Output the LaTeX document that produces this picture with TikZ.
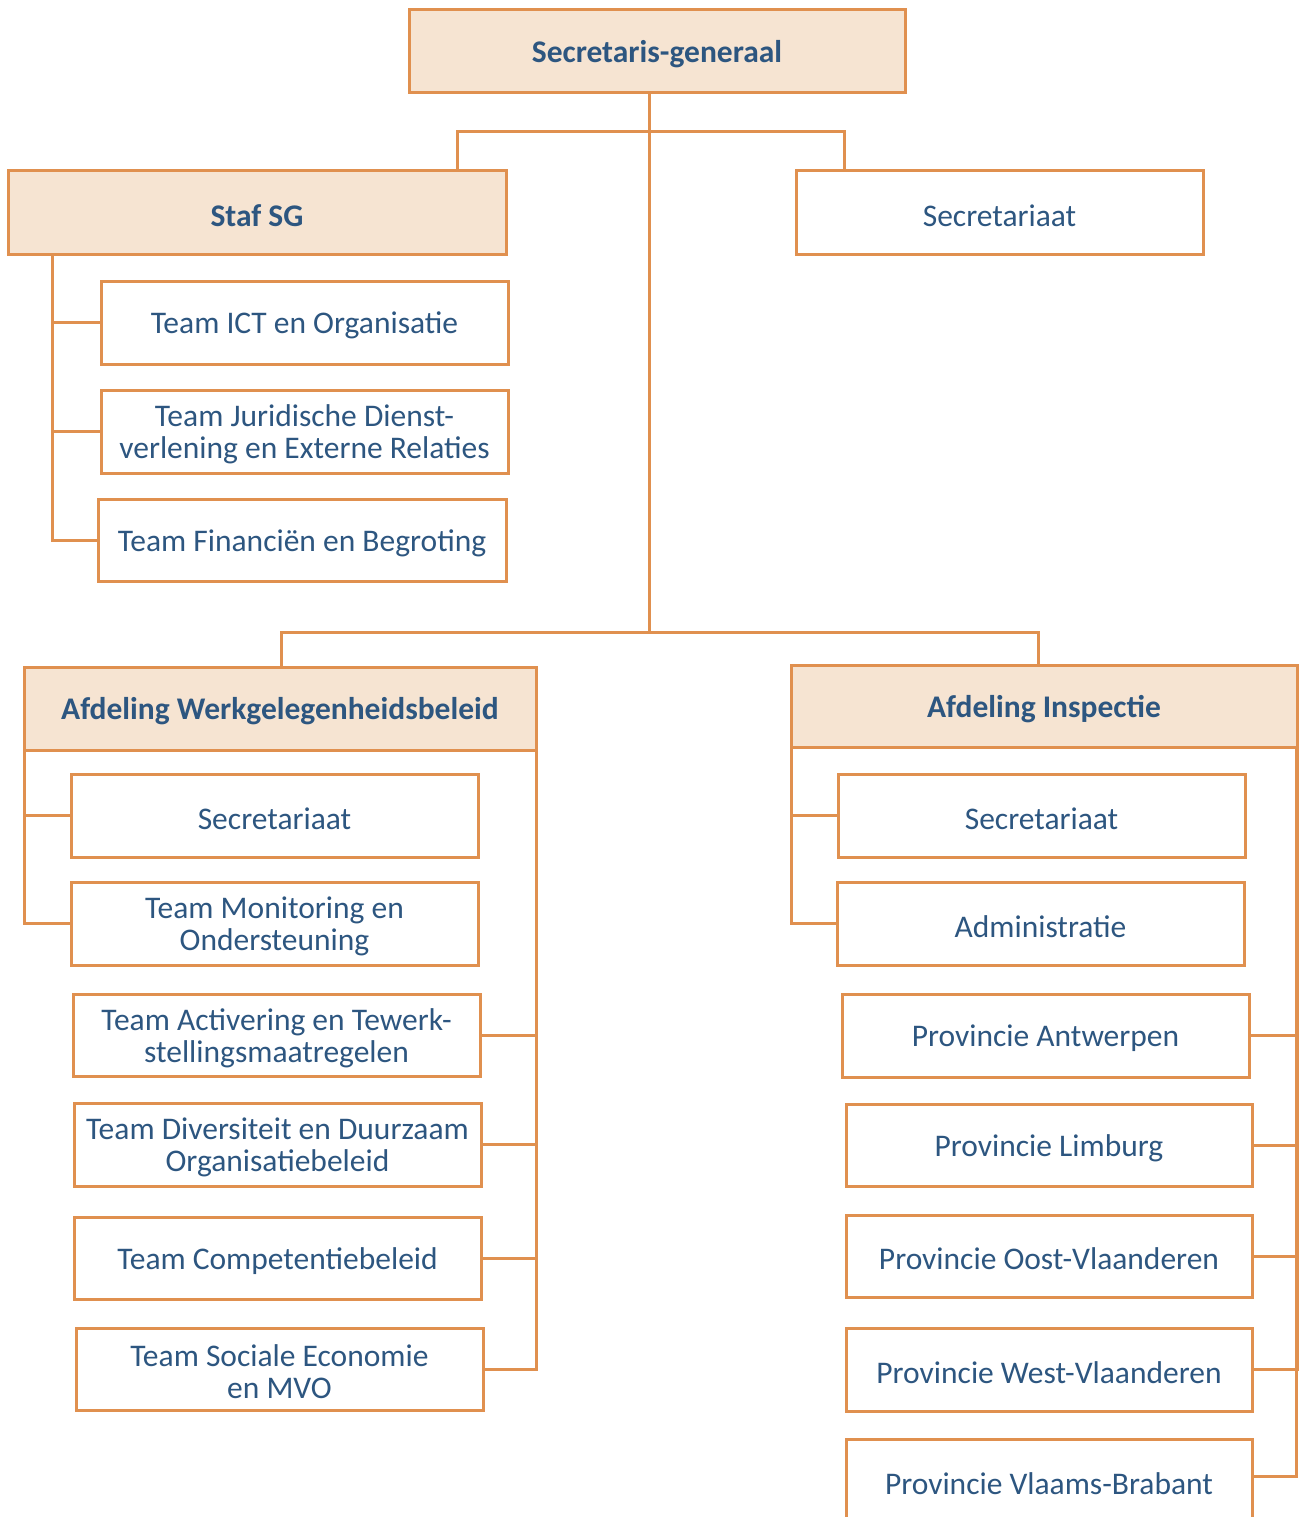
\documentclass[tikz,border=0pt]{standalone}
\usepackage{fontspec}
\setmainfont{Carlito}
\definecolor{ocol}{HTML}{E0904F}
\definecolor{fcol}{HTML}{F6E4D2}
\definecolor{tcol}{HTML}{2D5680}
\begin{document}
\begin{tikzpicture}[x=1pt,y=-1pt,
  box/.style={draw=ocol,line width=3pt,fill=white,inner sep=0pt,outer sep=0pt},
  hbox/.style={box,fill=fcol},
  txt/.style={text=tcol,align=center,font=\fontsize{31.5}{32}\selectfont,inner sep=0pt,yshift=-3pt},
  htxt/.style={txt,font=\fontsize{31.5}{32}\selectfont\bfseries},
  con/.style={draw=ocol,line width=3pt}]
\useasboundingbox (0,0) rectangle (1299,1517);
\newcommand\bx[8]{%
  \pgfmathsetmacro\cx{(#2+#4)/2}\pgfmathsetmacro\cy{(#3+#5)/2}%
  \pgfmathsetmacro\ww{#4-#2}\pgfmathsetmacro\hh{#5-#3}%
  \node[#6,minimum width=\ww pt,minimum height=\hh pt,
    label={[#7]center:#8}] (#1) at (\cx,\cy) {};}
\coordinate (j1) at (649,132);
\coordinate (j2) at (649,632);
% boxes
\bx{sg}{409}{10}{905}{93}{hbox}{htxt}{Secretaris-generaal}
\bx{staf}{8}{171}{506}{254}{hbox}{htxt}{Staf SG}
\bx{secr}{796}{171}{1203}{254}{box}{txt}{Secretariaat}
\bx{ict}{101}{281}{508}{364}{box}{txt}{Team ICT en Organisatie}
\bx{jur}{101}{390}{508}{473}{box}{txt}{Team Juridische Dienst-\\verlening en Externe Relaties}
\bx{fin}{98}{499}{506}{581}{box}{txt}{Team Financiën en Begroting}
\bx{werk}{24}{667}{536}{750}{hbox}{htxt}{Afdeling Werkgelegenheidsbeleid}
\bx{insp}{791}{665}{1297}{747}{hbox}{htxt}{Afdeling Inspectie}
\bx{wsec}{71}{774}{478}{857}{box}{txt}{Secretariaat}
\bx{wmon}{71}{882}{478}{965}{box}{txt}{Team Monitoring en\\Ondersteuning}
\bx{wact}{73}{994}{480}{1076}{box}{txt}{Team Activering en Tewerk-\\stellingsmaatregelen}
\bx{wdiv}{74}{1103}{481}{1186}{box}{txt}{Team Diversiteit en Duurzaam\\Organisatiebeleid}
\bx{wcom}{74}{1217}{481}{1299}{box}{txt}{Team Competentiebeleid}
\bx{wsoc}{76}{1328}{483}{1410}{box}{txt}{Team Sociale Economie\\en MVO}
\bx{isec}{838}{774}{1245}{857}{box}{txt}{Secretariaat}
\bx{iadm}{837}{882}{1244}{965}{box}{txt}{Administratie}
\bx{iant}{842}{994}{1249}{1077}{box}{txt}{Provincie Antwerpen}
\bx{ilim}{846}{1104}{1252}{1186}{box}{txt}{Provincie Limburg}
\bx{ioos}{846}{1215}{1252}{1297}{box}{txt}{Provincie Oost-Vlaanderen}
\bx{iwes}{846}{1328}{1252}{1411}{box}{txt}{Provincie West-Vlaanderen}
\bx{ivla}{846}{1439}{1252}{1522}{box}{txt}{Provincie Vlaams-Brabant}
% top level
\draw[con] (sg.south -| j2) -- (j2);
\draw[con] ([xshift=-49pt]staf.north east) |- (j1) -| ([xshift=48pt]secr.north west);
\draw[con] ([xshift=257pt]werk.north west) |- (j2) -| ([xshift=247pt]insp.north west);
% Staf SG
\coordinate (s1) at (52,254);
\draw[con] (s1) |- (ict.west);
\draw[con] (s1) |- (jur.west);
\draw[con] (s1) |- (fin.west);
% Werkgelegenheid
\draw[con] (werk.south west) |- (wsec.west);
\draw[con] (werk.south west) |- (wmon.west);
\draw[con] (werk.south east) |- (wact.east);
\draw[con] (werk.south east) |- (wdiv.east);
\draw[con] (werk.south east) |- (wcom.east);
\draw[con] (werk.south east) |- (wsoc.east);
% Inspectie
\draw[con] (insp.south west) |- (isec.west);
\draw[con] (insp.south west) |- (iadm.west);
\draw[con] (insp.south east) |- (iant.east);
\draw[con] (insp.south east) |- (ilim.east);
\draw[con] (insp.south east) |- (ioos.east);
\draw[con] (insp.south east) |- (iwes.east);
\draw[con] ([xshift=-1pt]insp.south east) |- ([yshift=4pt]ivla.east);
\end{tikzpicture}
\end{document}
